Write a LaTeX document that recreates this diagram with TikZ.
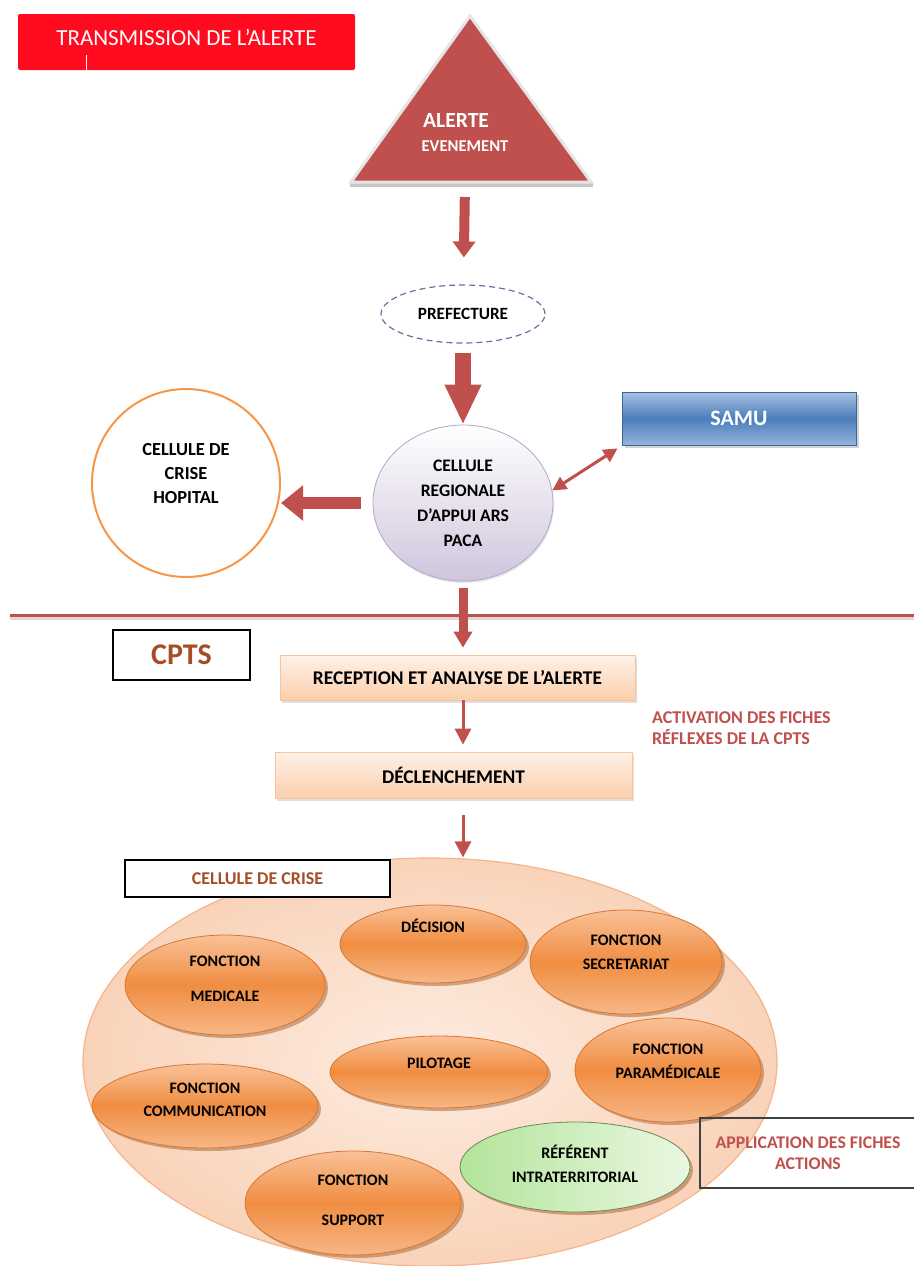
\documentclass[tikz,border=0pt]{standalone}
\usepackage{fontspec}
\setmainfont{Carlito}
\usetikzlibrary{arrows.meta,shapes.geometric,shadows}

\definecolor{alerteRed}{HTML}{C0504D}
\definecolor{titleRed}{HTML}{FF0A1E}
\definecolor{samuBlue}{HTML}{4A7EBB}
\definecolor{samuLight}{HTML}{A9C2E2}
\definecolor{lavender}{HTML}{CFC5DD}
\definecolor{lavEdge}{HTML}{B3A6C9}
\definecolor{purpleLine}{HTML}{8064A2}
\definecolor{hopitalOrange}{HTML}{F79646}
\definecolor{peachTop}{HTML}{FEF1E8}
\definecolor{peachBot}{HTML}{FBCFAC}
\definecolor{peachEdge}{HTML}{F9C49C}
\definecolor{criseIn}{HTML}{FDEBDF}
\definecolor{criseOut}{HTML}{F9D3B9}
\definecolor{criseEdge}{HTML}{F5B48A}
\definecolor{fnLight}{HTML}{F9C197}
\definecolor{fnOrange}{HTML}{F08D42}
\definecolor{fnEdge}{HTML}{D9772F}
\definecolor{greenRef}{HTML}{B3E49A}
\definecolor{greenPale}{HTML}{EAF8E2}
\definecolor{cptsBrown}{HTML}{A54E26}

\begin{document}
\begin{tikzpicture}[x=0.5pt,y=-0.5pt,
                    font=\fontsize{9}{12}\selectfont\bfseries]
  \tikzstyle{fat arrow}=[draw=alerteRed,line width=5pt,
                         -{Triangle[width=11pt,length=8pt]}]
  \tikzstyle{thin arrow}=[draw=alerteRed,line width=1.5pt,
                          -{Triangle[width=8pt,length=8pt]}]
  \tikzstyle{peach box}=[rectangle,draw=peachEdge,top color=peachTop,
                         bottom color=peachBot,
                         font=\fontsize{9.7}{12}\selectfont\bfseries,
                         drop shadow={shadow xshift=1pt,shadow yshift=-1.5pt,fill=gray!50}]
  \tikzstyle{fonction}=[ellipse,draw=fnEdge,line width=0.4pt,
                        top color=fnLight,bottom color=fnLight!80!fnOrange,
                        middle color=fnOrange,
                        drop shadow={shadow xshift=1.5pt,shadow yshift=-1.5pt,
                                     fill=fnEdge!70!black,opacity=0.45}]
  \tikzstyle{fn text}=[align=center,font=\fontsize{8}{12}\selectfont\bfseries]

  \useasboundingbox (0,0) rectangle (914,1266);

  % transmission de l'alerte
  \node[fill=titleRed,rounded corners=1pt,minimum width=168.5pt,
        minimum height=28pt] (titre) at (186.5,42) {};
  \node[text=white,font=\fontsize{11.5}{13}\selectfont] (titreTxt) at (186.5,37)
        {TRANSMISSION DE L’ALERTE};
  \draw[white,line width=0.5pt] (86,55) -- (86,70);

  \draw[gray!45,line width=2pt] (350,185) -- (593,185);
  \draw[fill=alerteRed,draw=gray!20,line width=1.5pt]
        (470,16) -- (591,182) -- (351,182) -- cycle;
  \coordinate (alerte) at (465,183);
  \node[text=white,font=\fontsize{10.8}{12}\selectfont\bfseries] (alerteTxt)
        at (456,120) {ALERTE};
  \node[text=white,font=\fontsize{8.3}{9}\selectfont\bfseries] (evenement)
        at (465,146) {EVENEMENT};

  \node[ellipse,draw=purpleLine,line width=0.6pt,dash pattern=on 3pt off 2pt,
        minimum width=82pt,minimum height=29pt,
        font=\fontsize{8.6}{10}\selectfont\bfseries] (pref) at (463,314) {PREFECTURE};

  \node[ellipse,draw=lavEdge,top color=white,bottom color=lavender,
        minimum width=90pt,minimum height=78pt,align=center,
        font=\fontsize{8.8}{12.5}\selectfont\bfseries,
        drop shadow={shadow xshift=0.5pt,shadow yshift=-1pt,fill=gray!40}] (cellule)
        at (463,503) {CELLULE\\REGIONALE\\D’APPUI ARS\\PACA};

  \node[ellipse,draw=hopitalOrange,line width=1pt,minimum width=94pt,
        minimum height=94pt,
        label={[align=center,yshift=4.5pt,font=\fontsize{9.2}{12}\selectfont\bfseries]
               center:CELLULE DE\\CRISE\\HOPITAL}]
        (hopital) at (186,483) {};

  \node[rectangle,text=white,top color=samuLight,bottom color=samuLight!80!samuBlue,
        middle color=samuBlue,draw=samuBlue!80!black,line width=0.4pt,
        minimum width=117pt,minimum height=26.5pt,
        font=\fontsize{11}{12}\selectfont\bfseries,
        drop shadow={shadow xshift=1.5pt,shadow yshift=-1.5pt,fill=gray!70}] (samu)
        at (739,418.5) {SAMU};

  \draw[fat arrow,shorten <=7pt,shorten >=13.5pt] (alerte) -- (pref);
  \draw[fat arrow,line width=8pt,-{Triangle[width=17pt,length=20pt]},
        shorten <=4.5pt] (pref) -- (cellule);
  \draw[fat arrow,line width=6pt,-{Triangle[width=17pt,length=11pt]},
        shorten <=6pt] (cellule.west) -- (cellule.west -| hopital.east);
  \draw[draw=alerteRed,line width=1.5pt,
        {Triangle[width=7pt,length=7pt]}-{Triangle[width=7pt,length=7pt]}]
        (cellule.8) -- ([xshift=-2pt,yshift=-1.5pt]samu.south west);

  % separation
  \coordinate (sepW) at (10,615);
  \coordinate (sepE) at (914,615);
  \draw[gray!30,line width=1.5pt] ([yshift=-1.5pt]sepW) -- ([yshift=-1.5pt]sepE);
  \draw[alerteRed,line width=1.5pt] (sepW) -- (sepE);

  % CPTS
  \node[draw=black,line width=0.8pt,minimum width=68.5pt,minimum height=25pt,
        text=cptsBrown,font=\fontsize{15}{17}\selectfont\bfseries] (cpts)
        at (181.5,655) {CPTS};
  \node[peach box,minimum width=177.5pt,minimum height=22.5pt] (reception)
        at (457.5,677.5) {RECEPTION ET ANALYSE DE L’ALERTE};
  \node[anchor=west,text=alerteRed,align=left,
        font=\fontsize{9}{10.5}\selectfont\bfseries] (activation)
        at (645,728) {ACTIVATION DES FICHES\\RÉFLEXES DE LA CPTS};
  \node[peach box,minimum width=178.5pt,minimum height=23pt] (declench)
        at (453.5,775) {DÉCLENCHEMENT};

  \draw[fat arrow,line width=4.5pt,-{Triangle[width=9pt,length=8pt]},
        shorten <=3.5pt,shorten >=3.5pt] (cellule) -- (reception.north -| cellule);

  % cellule de crise
  \node[ellipse,draw=criseEdge,line width=0.6pt,inner color=criseIn,
        outer color=criseOut,minimum width=347pt,minimum height=204pt] (crise)
        at (430,1062) {};
  \node[draw=black,fill=white,line width=0.8pt,minimum width=132.5pt,
        minimum height=18.5pt,text=cptsBrown] (criseTitre)
        at (257.5,878.5) {CELLULE DE CRISE};
  \draw[thin arrow,shorten >=3.5pt] (reception.south -| cellule)
        -- (declench.north -| cellule);
  \draw[thin arrow,shorten <=8.5pt] (declench.south -| cellule)
        -- (crise.north -| cellule);

  \node[fonction,minimum width=93pt,minimum height=39pt,
        label={[fn text,yshift=9pt]center:DÉCISION}] (decision) at (433,944) {};
  \node[fonction,minimum width=96pt,minimum height=52pt,
        label={[fn text,yshift=5pt]center:FONCTION\\SECRETARIAT}] (secretariat)
        at (626,962) {};
  \node[fonction,minimum width=100pt,minimum height=50pt,
        label={[fn text,yshift=3pt,font=\fontsize{8}{17.5}\selectfont\bfseries]
               center:FONCTION\\MEDICALE}] (medicale) at (225,985) {};
  \node[fonction,minimum width=109pt,minimum height=36pt,
        label={[fn text,yshift=4.5pt]center:PILOTAGE}] (pilotage) at (439,1072) {};
  \node[fonction,minimum width=93pt,minimum height=52pt,
        label={[fn text,yshift=4.5pt]center:FONCTION\\PARAMÉDICALE}] (paramedicale)
        at (668,1070) {};
  \node[fonction,minimum width=113pt,minimum height=42pt,
        label={[fn text,yshift=3pt,font=\fontsize{8}{11.5}\selectfont\bfseries]
               center:FONCTION\\COMMUNICATION}] (communication) at (205,1106) {};
  \node[fonction,left color=greenRef,right color=greenPale,draw=greenRef!60!black,
        minimum width=115pt,minimum height=45pt,
        label={[fn text,yshift=1.5pt]center:RÉFÉRENT\\INTRATERRITORIAL}] (referent)
        at (575,1167) {};
  \node[fonction,minimum width=108pt,minimum height=52pt,
        label={[fn text,yshift=1.5pt,font=\fontsize{8}{20}\selectfont\bfseries]
               center:FONCTION\\SUPPORT}] (support) at (353,1203) {};

  \node[draw=black!75,line width=0.8pt,minimum width=108pt,minimum height=35pt,
        text=alerteRed,align=center,font=\fontsize{8.9}{10.5}\selectfont\bfseries]
        (application) at (808,1153) {APPLICATION DES FICHES\\ACTIONS};
\end{tikzpicture}
\end{document}
